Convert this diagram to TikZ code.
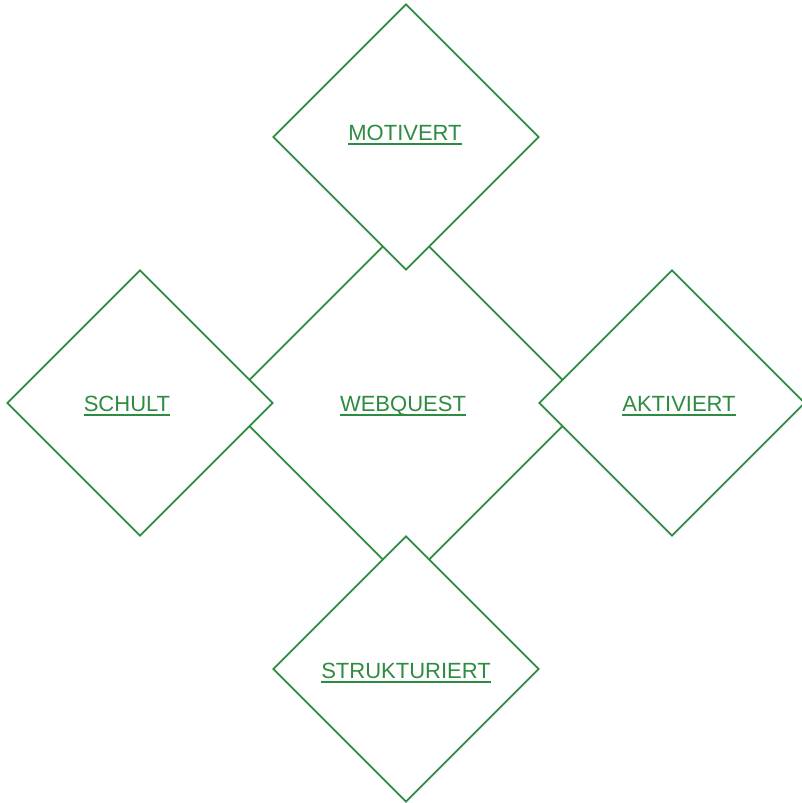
\documentclass[tikz,border=0pt]{standalone}
\usepackage{fontspec}
\setmainfont{Liberation Sans}
\usepackage{tikz}
\usetikzlibrary{shapes.geometric, arrows}
\definecolor{questgreen}{RGB}{46,140,66}
\newcommand{\linktext}[1]{\setbox0\hbox{#1}\rlap{\rule[-4pt]{\wd0}{1.6pt}}\box0}

\begin{document}
\begin{tikzpicture}[x=1pt, y=-1pt,
    facet/.style={draw=questgreen, line width=1.8pt, fill=white, diamond,
        aspect=1, inner sep=0pt, minimum size=266pt},
    facettext/.style={text=questgreen, inner sep=0pt,
        font=\fontsize{22}{26}\selectfont}]
        \useasboundingbox (0,0) rectangle (802,803);

        % Central diamond
        \node[facet, minimum size=360pt] (webquest) at (406,403) {};

        % Outer diamonds
        \node[facet] (motivert) at (406,137) {};
        \node[facet] (schult) at (140,403) {};
        \node[facet] (aktiviert) at (672,403) {};
        \node[facet] (strukturiert) at (406,669) {};

        % Labels
        \node[facettext] (webquest-text) at ([shift={(-3,3)}]webquest) {\linktext{WEBQUEST}};
        \node[facettext] (motivert-text) at ([shift={(-1,-2)}]motivert) {\linktext{MOTIVERT}};
        \node[facettext] (schult-text) at ([shift={(-13,3)}]schult) {\linktext{SCHULT}};
        \node[facettext] (aktiviert-text) at ([shift={(7,3)}]aktiviert) {\linktext{AKTIVIERT}};
        \node[facettext] (strukturiert-text) at ([shift={(0,4)}]strukturiert) {\linktext{STRUKTURIERT}};
    \end{tikzpicture}
\end{document}
